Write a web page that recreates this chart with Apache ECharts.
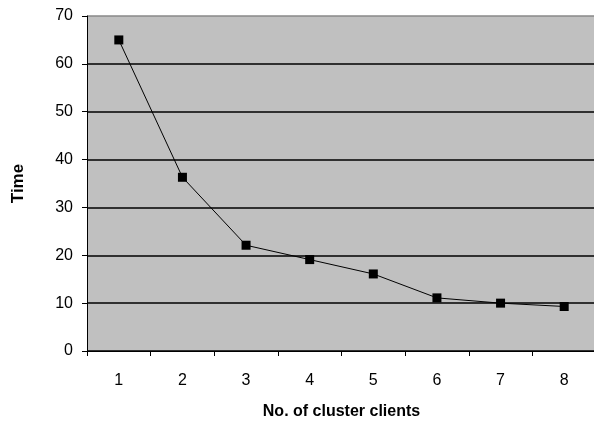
<!DOCTYPE html>
<html>
<head>
<meta charset="utf-8">
<script src="https://cdn.jsdelivr.net/npm/echarts@6/dist/echarts.min.js"></script>
<style>html,body{margin:0;padding:0;background:#fff}#c{width:594px;height:422px}</style>
</head>
<body>
<div id="c"></div>
<script>
var categories = ['1','2','3','4','5','6','7','8'];
var timeValues = [65, 36.3, 22.1, 19.1, 16.1, 11.1, 10, 9.3];
var yTicks = {min: 0, max: 70, interval: 10};

var chart = echarts.init(document.getElementById('c'));
chart.setOption({
  animation: false,
  grid: {left: 87, top: 16, width: 509, height: 335, backgroundColor: '#C0C0C0', show: true, borderWidth: 0, outerBoundsMode: 'none', containLabel: false},
  xAxis: {
    type: 'category', data: categories, boundaryGap: true,
    name: 'No. of cluster clients', nameLocation: 'middle', nameGap: 53,
    nameTextStyle: {fontFamily: 'Liberation Sans', fontWeight: 'bold', fontSize: 16, color: '#000'},
    axisLine: {lineStyle: {color: '#000', width: 1}},
    axisTick: {show: true, length: 5, lineStyle: {color: '#000'}},
    axisLabel: {fontFamily: 'Liberation Sans', fontSize: 16, color: '#000', margin: 22},
    splitLine: {show: false}
  },
  yAxis: {
    type: 'value', min: yTicks.min, max: yTicks.max, interval: yTicks.interval,
    name: 'Time', nameLocation: 'middle', nameGap: 60, nameRotate: 90,
    nameTextStyle: {fontFamily: 'Liberation Sans', fontWeight: 'bold', fontSize: 17, color: '#000'},
    axisLine: {show: true, lineStyle: {color: '#000', width: 1}},
    axisTick: {show: true, length: 5, lineStyle: {color: '#000'}},
    axisLabel: {fontFamily: 'Liberation Sans', fontSize: 16, color: '#000', margin: 14},
    splitLine: {show: true, lineStyle: {color: ['#000','#000','#000','#000','#000','#000','#000','#888'], width: 1.5}}
  },
  series: [{
    type: 'line', data: timeValues,
    symbol: 'rect', symbolSize: 9,
    itemStyle: {color: '#000'},
    lineStyle: {color: '#000', width: 1}
  }]
});
</script>
</body>
</html>
